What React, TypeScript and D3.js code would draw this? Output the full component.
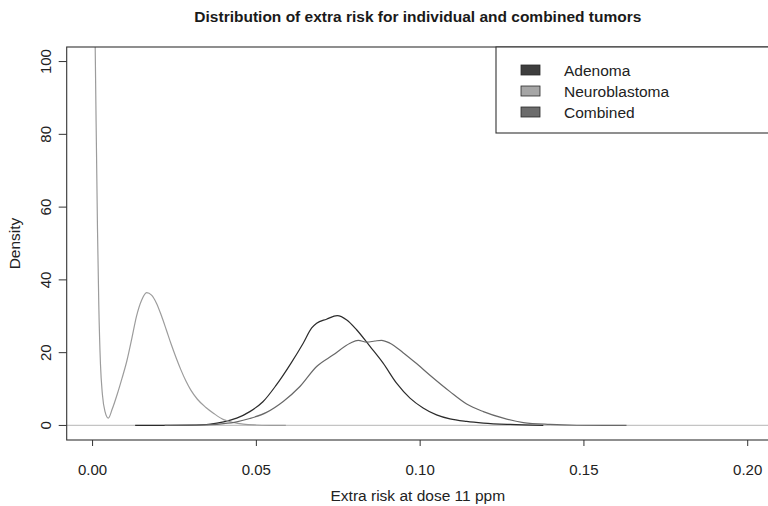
import React, { useEffect, useRef } from 'react';
import * as d3 from 'd3';

// density estimates (x = extra risk, y = density)
const adenomaRisk = [0.013, 0.02, 0.03, 0.036, 0.04, 0.044, 0.048, 0.052, 0.056, 0.0605, 0.0643, 0.0669, 0.0684, 0.0714, 0.0747, 0.0776, 0.0806, 0.0847, 0.0887, 0.0928, 0.0969, 0.1009, 0.105, 0.1091, 0.1142, 0.1193, 0.1274, 0.1376];
const adenomaDensity = [0, 0.02, 0.1, 0.4, 1.0, 2.0, 3.8, 6.5, 11, 17, 22.6, 26.8, 28.1, 29.2, 30.2, 29.0, 26.3, 21.7, 17.1, 11.6, 7.5, 4.8, 2.9, 1.8, 1.1, 0.66, 0.27, 0];

const neuroRisk = [0, 0.0004, 0.0008, 0.0012, 0.0015, 0.0019, 0.0024, 0.003, 0.0038, 0.0048, 0.006, 0.0075, 0.009, 0.0104, 0.012, 0.0134, 0.015, 0.0165, 0.018, 0.0195, 0.021, 0.0225, 0.024, 0.0255, 0.027, 0.0285, 0.03, 0.032, 0.0345, 0.037, 0.04, 0.043, 0.046, 0.05, 0.055, 0.059];
const neuroDensity = [200, 150, 104, 75, 54, 33, 17, 8.5, 3.8, 2.0, 4.5, 8.5, 13, 17.5, 24, 30, 34.5, 36.5, 35.8, 33.6, 30.2, 26.3, 22.3, 18.6, 15.2, 12.2, 9.7, 7.2, 5, 3.3, 1.6, 0.8, 0.35, 0.12, 0.03, 0];

const combinedRisk = [0.022, 0.03, 0.036, 0.04, 0.044, 0.048, 0.0531, 0.0582, 0.0633, 0.0684, 0.0735, 0.0786, 0.0811, 0.0837, 0.0862, 0.0882, 0.0908, 0.0948, 0.0989, 0.103, 0.1091, 0.1142, 0.1193, 0.1254, 0.1315, 0.1396, 0.1478, 0.163];
const combinedDensity = [0, 0.05, 0.2, 0.5, 1.0, 1.9, 3.6, 6.6, 10.7, 16.2, 19.4, 22.6, 23.4, 22.9, 23.2, 23.4, 22.6, 20.0, 17.0, 13.8, 9.3, 5.9, 3.8, 2.0, 0.8, 0.27, 0.05, 0];

const xTicks = [0, 0.05, 0.1, 0.15, 0.2];
const yTicks = [0, 20, 40, 60, 80, 100];

const legendLabels = ['Adenoma', 'Neuroblastoma', 'Combined'];
const legendFills = ['#3e3e3e', '#a6a6a6', '#6c6c6c'];
const lineColors = ['#2b2b2b', '#9c9c9c', '#686868'];

const W = 768;
const H = 506;
const FONT = "'Liberation Sans', Arial, sans-serif";

const DensityChart = () => {
  const svgRef = useRef<SVGSVGElement>(null);

  useEffect(() => {
    const svg = d3.select(svgRef.current);
    svg.selectAll('*').remove();

    const left = 66.7, right = 769, top = 47, bottom = 440;

    // R style limits: data range padded by 4%
    const x = d3.scaleLinear().domain([-0.0079, 0.2065]).range([left, right]);
    const y = d3.scaleLinear().domain([-4, 104]).range([bottom, top]);

    svg.append('defs').append('clipPath').attr('id', 'plot-clip')
      .append('rect')
      .attr('x', left).attr('y', top)
      .attr('width', right - left).attr('height', bottom - top);

    // title
    svg.append('text')
      .attr('x', (left + right) / 2)
      .attr('y', 22)
      .attr('text-anchor', 'middle')
      .style('font-family', FONT)
      .style('font-size', '15.5px')
      .style('font-weight', 'bold')
      .style('fill', '#1a1a1a')
      .text('Distribution of extra risk for individual and combined tumors');

    const plot = svg.append('g').attr('clip-path', 'url(#plot-clip)');

    // zero line
    plot.append('line')
      .attr('x1', left).attr('x2', right)
      .attr('y1', y(0)).attr('y2', y(0))
      .attr('stroke', '#c4c4c4')
      .attr('stroke-width', 1.2);

    const line = d3.line<[number, number]>()
      .x(d => x(d[0]))
      .y(d => y(d[1]))
      .curve(d3.curveMonotoneX);

    const series: [number[], number[]][] = [
      [adenomaRisk, adenomaDensity],
      [neuroRisk, neuroDensity],
      [combinedRisk, combinedDensity],
    ];

    series.forEach(([xs, ys], i) => {
      const pts = xs.map((v, j) => [v, ys[j]] as [number, number]);
      plot.append('path')
        .attr('d', line(pts))
        .attr('fill', 'none')
        .attr('stroke', lineColors[i])
        .attr('stroke-width', 1.2);
    });

    // box
    svg.append('rect')
      .attr('x', left).attr('y', top)
      .attr('width', right - left).attr('height', bottom - top)
      .attr('fill', 'none')
      .attr('stroke', '#333')
      .attr('stroke-width', 1.1);

    // x axis ticks + labels
    const xAxis = svg.append('g');
    xTicks.forEach(t => {
      xAxis.append('line')
        .attr('x1', x(t)).attr('x2', x(t))
        .attr('y1', bottom).attr('y2', bottom + 6)
        .attr('stroke', '#333');
      xAxis.append('text')
        .attr('x', x(t))
        .attr('y', 475)
        .attr('text-anchor', 'middle')
        .style('font-family', FONT)
        .style('font-size', '15px')
        .style('fill', '#222')
        .text(d3.format('.2f')(t));
    });

    // y axis ticks + rotated labels
    const yAxis = svg.append('g');
    yTicks.forEach(t => {
      yAxis.append('line')
        .attr('x1', left - 8).attr('x2', left)
        .attr('y1', y(t)).attr('y2', y(t))
        .attr('stroke', '#333');
      yAxis.append('text')
        .attr('transform', `translate(50.5,${y(t)}) rotate(-90)`)
        .attr('text-anchor', 'middle')
        .style('font-family', FONT)
        .style('font-size', '15px')
        .style('fill', '#222')
        .text(t);
    });

    // axis titles
    svg.append('text')
      .attr('x', (left + right) / 2)
      .attr('y', 501)
      .attr('text-anchor', 'middle')
      .style('font-family', FONT)
      .style('font-size', '15.5px')
      .style('fill', '#222')
      .text('Extra risk at dose 11 ppm');

    svg.append('text')
      .attr('transform', `translate(19.5,${(top + bottom) / 2}) rotate(-90)`)
      .attr('text-anchor', 'middle')
      .style('font-family', FONT)
      .style('font-size', '15.5px')
      .style('fill', '#222')
      .text('Density');

    // legend
    const legend = svg.append('g');
    legend.append('rect')
      .attr('x', 496).attr('y', top)
      .attr('width', right - 496).attr('height', 133 - top)
      .attr('fill', 'white')
      .attr('stroke', '#333')
      .attr('stroke-width', 1.1);

    legendLabels.forEach((lab, i) => {
      const cy = 70 + i * 21;
      legend.append('rect')
        .attr('x', 521).attr('y', cy - 5)
        .attr('width', 19).attr('height', 10)
        .attr('fill', legendFills[i])
        .attr('stroke', '#2a2a2a')
        .attr('stroke-width', 0.8);
      legend.append('text')
        .attr('x', 564)
        .attr('y', cy)
        .attr('dominant-baseline', 'central')
        .style('font-family', FONT)
        .style('font-size', '15.5px')
        .style('fill', '#222')
        .text(lab);
    });
  }, []);

  return <svg ref={svgRef} width={W} height={H} style={{ display: 'block' }} />;
};

export default function App() {
  return (
    <div style={{ position: 'absolute', left: 0, top: 0, width: W, height: H, background: 'white' }}>
      <DensityChart />
    </div>
  );
}
